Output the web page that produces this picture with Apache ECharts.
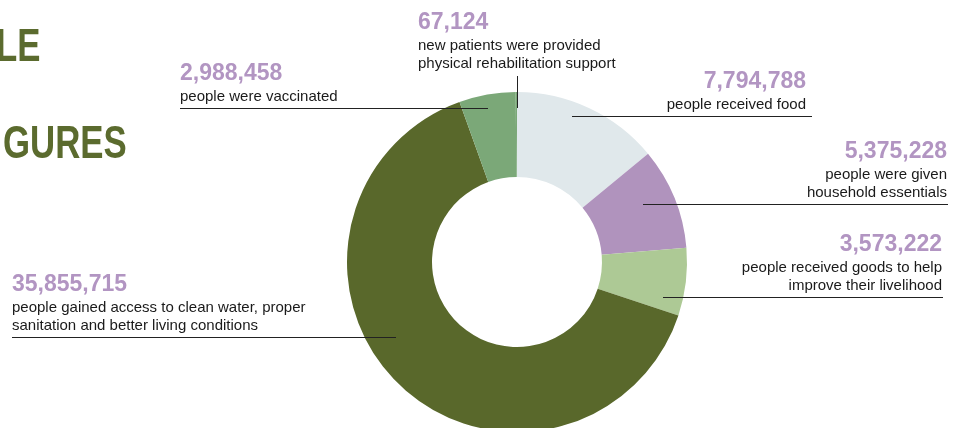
<!DOCTYPE html>
<html>
<head>
<meta charset="utf-8">
<script src="https://cdn.jsdelivr.net/npm/echarts@6/dist/echarts.min.js"></script>
<style>
  html, body { margin: 0; padding: 0; background: #fff; }
  #main { width: 964px; height: 428px; }
</style>
</head>
<body>
<div id="main"></div>
<script>
// slices, clockwise from 12 o'clock
var categories = ['food', 'household', 'livelihood', 'water', 'vaccinated', 'rehabilitation'];
var values = [7794788, 5375228, 3573222, 35855715, 2988458, 67124];
var descriptions = [
    'people received food',
    'people were given\nhousehold essentials',
    'people received goods to help\nimprove their livelihood',
    'people gained access to clean water, proper\nsanitation and better living conditions',
    'people were vaccinated',
    'new patients were provided\nphysical rehabilitation support'
];
var colors = ['#e0e8eb', '#b093bd', '#adc995', '#59682b', '#7ba878', '#7ba878'];

var FONT = '"Liberation Sans", Arial, sans-serif';

// where each label sits and where its leader line runs
var spots = [
    { x: 806, y: 114, align: 'right', line: [[572, 116.5], [700, 116.5], [812, 116.5]] },
    { x: 947, y: 202, align: 'right', line: [[643, 204.5], [800, 204.5], [948, 204.5]] },
    { x: 942, y: 295, align: 'right', line: [[663, 297.5], [800, 297.5], [943, 297.5]] },
    { x: 12, y: 335, align: 'left', line: [[396, 337.5], [200, 337.5], [12, 337.5]] },
    { x: 180, y: 106, align: 'left', line: [[488, 108.5], [300, 108.5], [180, 108.5]] },
    { x: 418, y: 73, align: 'left', line: [[517.5, 108], [517.5, 90], [517.5, 76]] }
];

var chart = echarts.init(document.getElementById('main'));

var seriesData = categories.map(function (c, i) {
    return { name: c, value: values[i], itemStyle: { color: colors[i] } };
});

var CENTER = [517, 262];
var RADIUS = [85, 170];

var option = {
    animation: false,
    graphic: [
        { type: 'text', x: -4, y: 48, scaleX: 0.74, style: { text: 'LE', font: 'bold 47px ' + FONT, fill: '#5b6b2e', verticalAlign: 'middle' } },
        { type: 'text', x: 3, y: 145, scaleX: 0.74, style: { text: 'GURES', font: 'bold 47px ' + FONT, fill: '#5b6b2e', verticalAlign: 'middle' } }
    ],
    series: [{
        // the ring itself
        type: 'pie',
        center: CENTER,
        radius: RADIUS,
        startAngle: 90,
        silent: true,
        label: { show: false },
        labelLine: { show: false },
        data: seriesData
    }, {
        // same slices again, invisible, carrying labels and leader lines on top
        type: 'pie',
        z: 3,
        center: CENTER,
        radius: RADIUS,
        startAngle: 90,
        avoidLabelOverlap: false,
        silent: true,
        itemStyle: { color: 'rgba(0,0,0,0)' },
        data: categories.map(function (c, i) { return { name: c, value: values[i] }; }),
        label: {
            show: true,
            position: 'outside',
            formatter: function (p) {
                var lines = descriptions[p.dataIndex].split('\n').map(function (l) {
                    return '{t|' + l + '}';
                });
                return '{v|' + p.value.toLocaleString('en-US') + '}\n' + lines.join('\n');
            },
            rich: {
                v: { fontFamily: FONT, fontSize: 23, fontWeight: 'bold', color: '#b295c2', lineHeight: 28 },
                t: { fontFamily: FONT, fontSize: 15, color: '#1a1a1a', lineHeight: 18 }
            }
        },
        labelLine: {
            show: true,
            lineStyle: { color: '#222', width: 1 }
        },
        labelLayout: function (params) {
            var s = spots[params.dataIndex];
            return {
                x: s.x,
                y: s.y,
                align: s.align,
                verticalAlign: 'bottom',
                labelLinePoints: s.line
            };
        }
    }]
};

chart.setOption(option);
</script>
</body>
</html>
